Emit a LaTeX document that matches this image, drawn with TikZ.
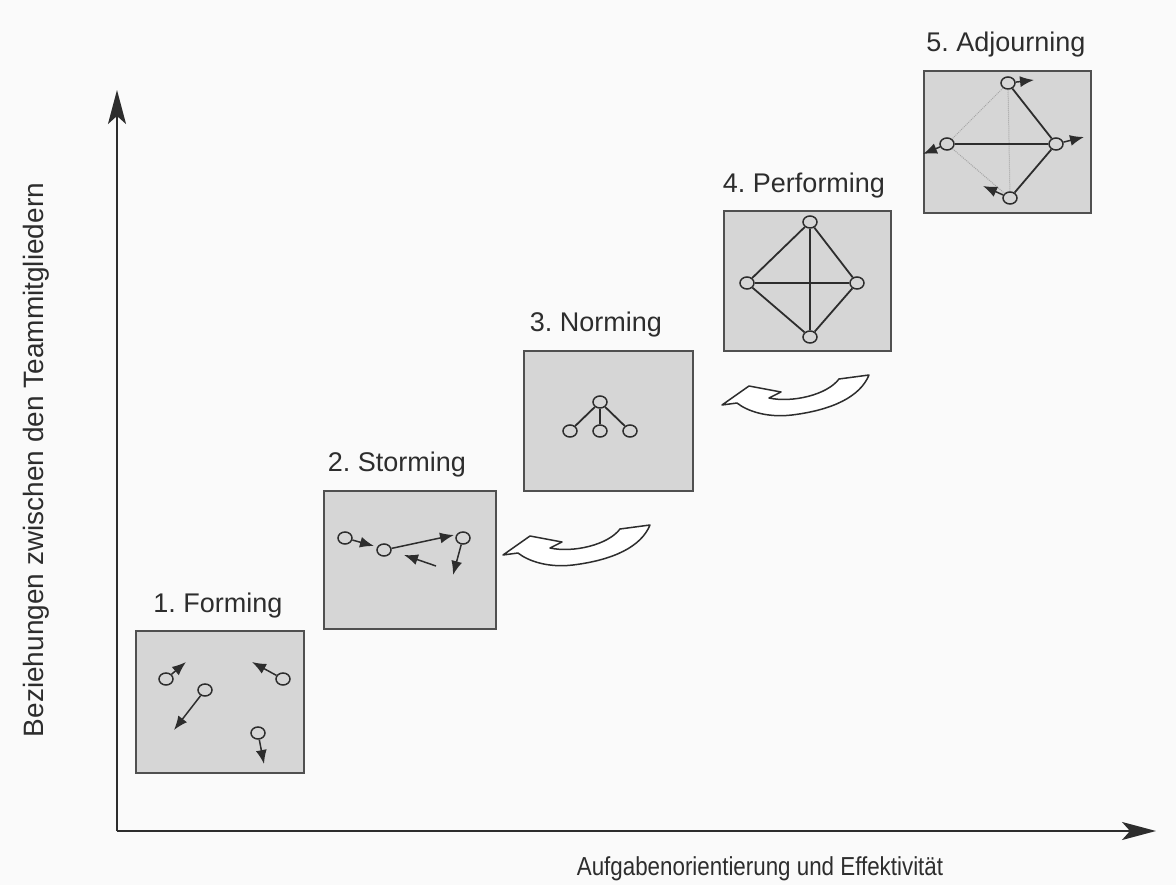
\documentclass[tikz,border=0pt]{standalone}
\usepackage{fontspec}
\setmainfont{Liberation Sans}
\usetikzlibrary{arrows.meta,shapes.geometric}

\definecolor{paper}{RGB}{250,250,250}
\definecolor{boxfill}{RGB}{214,214,214}
\definecolor{boxline}{RGB}{80,80,80}
\definecolor{ink}{RGB}{45,45,45}

\tikzset{
  stage/.style={draw=boxline, fill=boxfill, line width=2pt, inner sep=0pt, anchor=north west},
  member/.style={ellipse, draw=ink, fill=boxfill, line width=1.5pt, minimum width=14pt, minimum height=12pt, inner sep=0pt},
  move/.style={draw=ink, line width=1.5pt, -{Latex[length=14pt,width=11pt]}},
  tie/.style={draw=ink, line width=1.8pt},
  weaktie/.style={draw=gray!70, line width=1pt, densely dotted},
  stagelabel/.style={font=\fontsize{27}{31}\selectfont, text=ink},
  axislabel/.style={text=ink},
  axis/.style={draw=ink, line width=2pt, -{Stealth[length=34pt,width=18pt,inset=8pt]}},
  pics/turnarrow/.style={code={
    \draw[ink, line width=1.5pt, fill=white, line join=round]
      (0,0) -- (27,-19) -- (59,-13) -- (47,-7)
      .. controls (70,-2) and (105,-10) .. (117,-26)
      -- (147,-30)
      .. controls (138,-8) and (110,5) .. (70,10)
      .. controls (45,13) and (25,6) .. (15,-2) -- cycle;
  }}
}

\begin{document}
\frenchspacing
\begin{tikzpicture}[x=1pt, y=-1pt]
  \useasboundingbox[fill=paper] (0,0) rectangle (1176,885);

  % axes
  \coordinate (origin) at (117,831);
  \coordinate (ytop) at (117,90);
  \coordinate (xend) at (1156,831);
  \draw[axis] (origin) -- (ytop);
  \draw[axis] (origin) -- (xend);
  \node[axislabel, font=\fontsize{28}{32}\selectfont, rotate=90] (ylab) at (36,460) {Beziehungen zwischen den Teammitgliedern};
  \node[axislabel, font=\fontsize{26}{30}\selectfont, xscale=0.86] (xlab) at (760,869) {Aufgabenorientierung und Effektivität};

  % stage boxes
  \node[stage, minimum width=168pt, minimum height=142pt] (s1) at (135,630) {};
  \node[stage, minimum width=172pt, minimum height=138pt] (s2) at (323,490) {};
  \node[stage, minimum width=169pt, minimum height=140pt] (s3) at (523,350) {};
  \node[stage, minimum width=167pt, minimum height=140pt] (s4) at (723,210) {};
  \node[stage, minimum width=167pt, minimum height=142pt] (s5) at (923,70) {};

  % stage titles
  \node[stagelabel] (l1) at (218,606) {1. Forming};
  \node[stagelabel] (l2) at (397,465) {2. Storming};
  \node[stagelabel] (l3) at (596,325) {3. Norming};
  \node[stagelabel] (l4) at (804,186) {4. Performing};
  \node[stagelabel] (l5) at (1006,45) {5. Adjourning};

  % 1. Forming: members drifting apart
  \node[member] (f1) at (166,679) {};
  \node[member] (f2) at (205,690) {};
  \node[member] (f3) at (283,679) {};
  \node[member] (f4) at (258,733) {};
  \coordinate (f1t) at (186,662);
  \coordinate (f2t) at (174,730);
  \coordinate (f3t) at (252,662);
  \coordinate (f4t) at (264,764);
  \draw[move] (f1) -- (f1t);
  \draw[move] (f2) -- (f2t);
  \draw[move] (f3) -- (f3t);
  \draw[move] (f4) -- (f4t);

  % 2. Storming: conflicting moves
  \node[member] (t1) at (345,538) {};
  \node[member] (t2) at (384,550) {};
  \node[member] (t3) at (463,538) {};
  \coordinate (t1t) at (374,546);
  \coordinate (t2t) at (454,535);
  \coordinate (t3t) at (453,575);
  \coordinate (t4s) at (436,566);
  \coordinate (t4t) at (404,555);
  \draw[move] (t1) -- (t1t);
  \draw[move] (t2) -- (t2t);
  \draw[move] (t3) -- (t3t);
  \draw[move] (t4s) -- (t4t);

  % 3. Norming: one member linked to three
  \node[member] (n0) at (600,402) {};
  \node[member] (n1) at (570,431) {};
  \node[member] (n2) at (600,431) {};
  \node[member] (n3) at (630,431) {};
  \draw[tie] (n0) -- (n1);
  \draw[tie] (n0) -- (n2);
  \draw[tie] (n0) -- (n3);

  % 4. Performing: fully connected team
  \node[member] (p1) at (810,222) {};
  \node[member] (p2) at (747,283) {};
  \node[member] (p3) at (857,283) {};
  \node[member] (p4) at (810,337) {};
  \draw[tie] (p1) -- (p2);
  \draw[tie] (p1) -- (p3);
  \draw[tie] (p2) -- (p4);
  \draw[tie] (p3) -- (p4);
  \draw[tie] (p2) -- (p3);
  \draw[tie] (p1) -- (p4);

  % 5. Adjourning: links loosen, members leave
  \node[member] (a1) at (1008,83) {};
  \node[member] (a2) at (947,144) {};
  \node[member] (a3) at (1056,144) {};
  \node[member] (a4) at (1010,198) {};
  \draw[weaktie] (a1) -- (a2);
  \draw[weaktie] (a1) -- (a4);
  \draw[weaktie] (a2) -- (a4);
  \draw[tie] (a1) -- (a3);
  \draw[tie] (a2) -- (a3);
  \draw[tie] (a3) -- (a4);
  \coordinate (a1t) at (1034,80);
  \coordinate (a2t) at (923,154);
  \coordinate (a3t) at (1084,137);
  \coordinate (a4t) at (983,186);
  \draw[move] (a1) -- (a1t);
  \draw[move] (a2) -- (a2t);
  \draw[move] (a3) -- (a3t);
  \draw[move] (a4) -- (a4t);

  % feedback arrows
  \pic at (503,555) {turnarrow};
  \pic at (722,405) {turnarrow};
\end{tikzpicture}
\end{document}
